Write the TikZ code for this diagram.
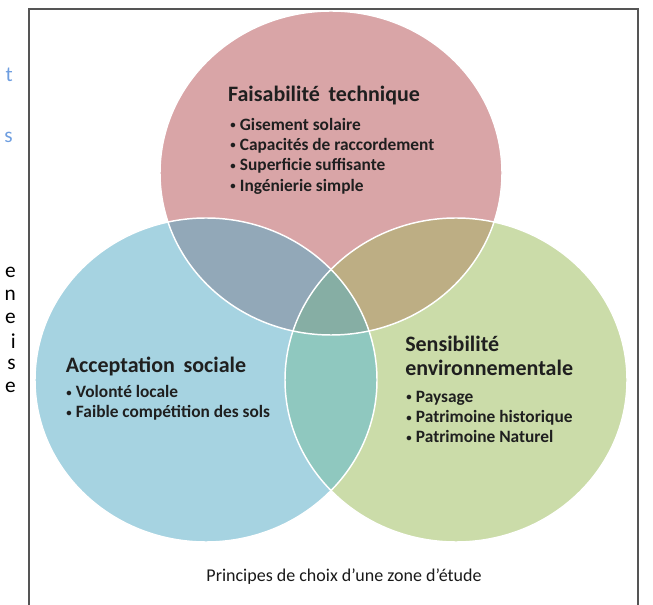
\documentclass[tikz,border=0pt]{standalone}
\usepackage{graphicx}
\usepackage{fontspec}
\setmainfont{Carlito}
\usetikzlibrary{positioning}

\definecolor{faisabfill}{HTML}{D9A5A7}
\definecolor{acceptfill}{HTML}{A6D3E1}
\definecolor{sensibfill}{HTML}{CBDCA9}
\definecolor{faisaccept}{HTML}{92A8B8}
\definecolor{faissensib}{HTML}{BDAE84}
\definecolor{acceptsensib}{HTML}{8FC8BF}
\definecolor{allthree}{HTML}{86AEA4}
\definecolor{framegray}{HTML}{555555}
\definecolor{margblue}{HTML}{6E9EE0}

% small list bullet
\newcommand{\dotmark}{\raisebox{0.18ex}{\scalebox{0.62}{•}}\hspace{0.25em}}

\begin{document}
\begin{tikzpicture}[x=0.75pt, y=-0.75pt,
                    lobe/.style={x radius=128.25pt, y radius=121.5pt},
                    rim/.style={white, line width=1.1pt},
                    heading/.style={font=\bfseries\fontsize{16.5}{17.5}\selectfont, text=black!88, inner sep=0pt},
                    items/.style={font=\bfseries\fontsize{13}{15.3}\selectfont, text=black!88, align=left, anchor=west, inner sep=0pt},
                    marg/.style={font=\fontsize{16}{18}\selectfont, anchor=east, inner sep=0pt}]
  \useasboundingbox (0,0) rectangle (653,605);

  % ends of the neighbouring text lines
  \node[marg, text=margblue] (m1) at (13,75) {t};
  \node[marg, text=margblue] (m2) at (13,137) {s};
  \foreach \ch [count=\i] in {e,n,e,i,s,e}
    \node[marg] (n\i) at (16,249+23*\i) {\ch};

  % frame
  \draw[framegray, line width=1.5pt] (29,606) -- (29,9) -- (638,9) -- (638,606);

  \coordinate (faisab) at (331,173);
  \coordinate (accept) at (206,380);
  \coordinate (sensib) at (456,380);

  % the three sets
  \fill[faisabfill] (faisab) ellipse [lobe];
  \fill[acceptfill] (accept) ellipse [lobe];
  \fill[sensibfill] (sensib) ellipse [lobe];

  % overlaps
  \begin{scope}
    \clip (faisab) ellipse [lobe];
    \fill[faisaccept] (accept) ellipse [lobe];
    \fill[faissensib] (sensib) ellipse [lobe];
  \end{scope}
  \begin{scope}
    \clip (accept) ellipse [lobe];
    \fill[acceptsensib] (sensib) ellipse [lobe];
    \clip (faisab) ellipse [lobe];
    \fill[allthree] (sensib) ellipse [lobe];
  \end{scope}

  \draw[rim] (faisab) ellipse [lobe];
  \draw[rim] (accept) ellipse [lobe];
  \draw[rim] (sensib) ellipse [lobe];

  % labels
  \node[heading] (ftitle) at (324,96) {Faisabilité\, technique};
  \node[items] (flist) at (230,156) {\dotmark Gisement solaire\\\dotmark Capacités de raccordement\\\dotmark Superficie suffisante\\\dotmark Ingénierie simple};

  \node[heading] (atitle) at (156,366) {Acceptation\, sociale};
  \node[items] (alist) at (66,403) {\dotmark Volonté locale\\\dotmark Faible compétition des sols};

  \node[heading, align=left, anchor=west] (stitle) at (405,356) {Sensibilité\\environnementale};
  \node[items] (slist) at (406,417) {\dotmark Paysage\\\dotmark Patrimoine historique\\\dotmark Patrimoine Naturel};

  \node[font=\fontsize{13.5}{16}\selectfont, text=black!90, inner sep=0pt] (caption) at (344,577) {Principes de choix d’une zone d’étude};
\end{tikzpicture}
\end{document}
